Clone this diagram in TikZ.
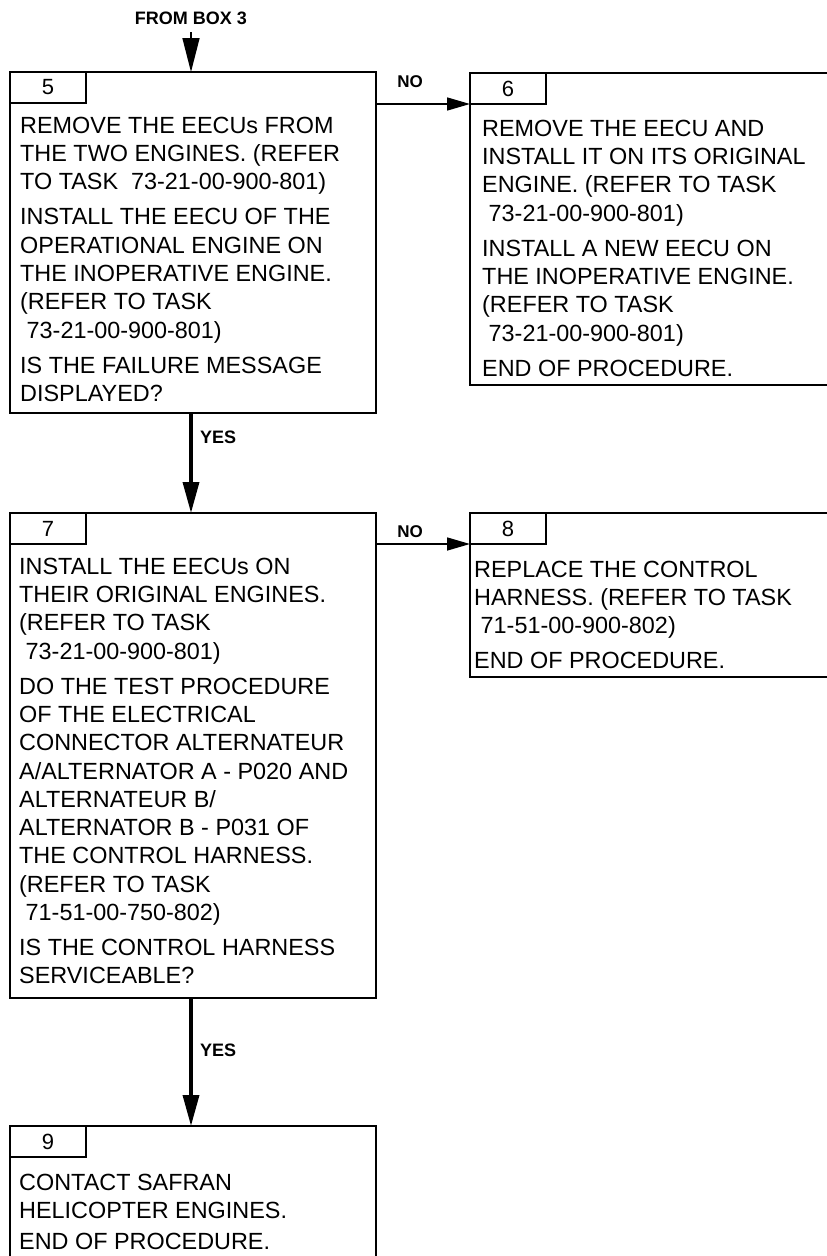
\documentclass[tikz,border=0pt]{standalone}
\usepackage{fontspec}
\setmainfont{Liberation Sans}
\usetikzlibrary{arrows.meta}
\newcommand{\lsp}{\hspace*{0.278em}}
\newcommand{\toprule}{\rule{0pt}{20pt}}
\begin{document}
\begin{tikzpicture}[x=1pt,y=-1pt,
  box/.style={draw, line width=2pt, rectangle, inner sep=0pt, outer sep=0pt, anchor=north west},
  numbox/.style={box, minimum width=76pt, minimum height=31pt, font=\fontsize{22}{26}\selectfont},
  body/.style={anchor=north west, align=left, inner sep=0pt, font=\fontsize{23.4}{28.3}\selectfont},
  lbl/.style={font=\fontsize{18}{21}\selectfont\bfseries, inner sep=0pt},
  nolbl/.style={lbl, font=\fontsize{17}{20}\selectfont\bfseries},
  noarrow/.style={line width=1.5pt, -{Triangle[length=23pt,width=13pt]}},
  yesarrow/.style={line width=3.5pt, -{Triangle[length=31pt,width=16pt]}},
  fromarrow/.style={line width=1.5pt, -{Triangle[length=34pt,width=17pt]}}
]
\useasboundingbox (0,0) rectangle (827,1256);
\fill[white] (0,0) rectangle (827,1256);
\clip (0,0) rectangle (827,1256);

% box 5
\node[box, minimum width=366pt, minimum height=341pt] (b5) at (10,72) {};
\node[numbox] (n5) at (10,72) {5};
\node[body] (t5) at (20,113) {\toprule REMOVE THE EECUs FROM\\THE TWO ENGINES. (REFER\\TO TASK\lsp\lsp73-21-00-900-801)\\[6.7pt]
INSTALL THE EECU OF THE\\OPERATIONAL ENGINE ON\\THE INOPERATIVE ENGINE.\\(REFER TO TASK\\\lsp73-21-00-900-801)\\[6.7pt]
IS THE FAILURE MESSAGE\\DISPLAYED?};

% box 6
\node[box, minimum width=420pt, minimum height=312pt] (b6) at (470,73) {};
\node[numbox] (n6) at (470,73) {6};
\node[body] (t6) at (482,116) {\toprule REMOVE THE EECU AND\\INSTALL IT ON ITS ORIGINAL\\ENGINE. (REFER TO TASK\\\lsp73-21-00-900-801)\\[6.7pt]
INSTALL A NEW EECU ON\\THE INOPERATIVE ENGINE.\\(REFER TO TASK\\\lsp73-21-00-900-801)\\[6.7pt]
END OF PROCEDURE.};

% box 7
\node[box, minimum width=366pt, minimum height=485pt] (b7) at (10,513) {};
\node[numbox] (n7) at (10,513) {7};
\node[body] (t7) at (19,554) {\toprule INSTALL THE EECUs ON\\THEIR ORIGINAL ENGINES.\\(REFER TO TASK\\\lsp73-21-00-900-801)\\[6.7pt]
DO THE TEST PROCEDURE\\OF THE ELECTRICAL\\CONNECTOR ALTERNATEUR\\A/ALTERNATOR A - P020 AND\\ALTERNATEUR B/\\ALTERNATOR B - P031 OF\\THE CONTROL HARNESS.\\(REFER TO TASK\\\lsp71-51-00-750-802)\\[6.7pt]
IS THE CONTROL HARNESS\\SERVICEABLE?};

% box 8
\node[box, minimum width=420pt, minimum height=164pt] (b8) at (470,513) {};
\node[numbox] (n8) at (470,513) {8};
\node[body] (t8) at (474,557) {\toprule REPLACE THE CONTROL\\HARNESS. (REFER TO TASK\\\lsp71-51-00-900-802)\\[6.7pt]
END OF PROCEDURE.};

% box 9
\node[box, minimum width=366pt, minimum height=180pt] (b9) at (10,1126) {};
\node[numbox] (n9) at (10,1126) {9};
\node[body] (t9) at (19,1170) {\toprule CONTACT SAFRAN\\HELICOPTER ENGINES.\\[2.5pt]
END OF PROCEDURE.};

% connectors
\node[lbl] (from) at (191,18) {FROM BOX 3};
\coordinate (fromstart) at (191,32);
\draw[fromarrow] (fromstart) -- (fromstart |- b5.north);

\draw[noarrow] (n6.south west -| b5.east) -- (n6.south west);
\node[nolbl] (no1) at (410,82) {NO};

\draw[yesarrow] (b5.south -| fromstart) -- (b7.north -| fromstart);
\node[lbl, anchor=west] (yes1) at (200,437) {YES};

\draw[noarrow] (n8.south west -| b7.east) -- (n8.south west);
\node[nolbl] (no2) at (410,532) {NO};

\draw[yesarrow] (b7.south -| fromstart) -- (b9.north -| fromstart);
\node[lbl, anchor=west] (yes2) at (200,1050) {YES};
\end{tikzpicture}
\end{document}
